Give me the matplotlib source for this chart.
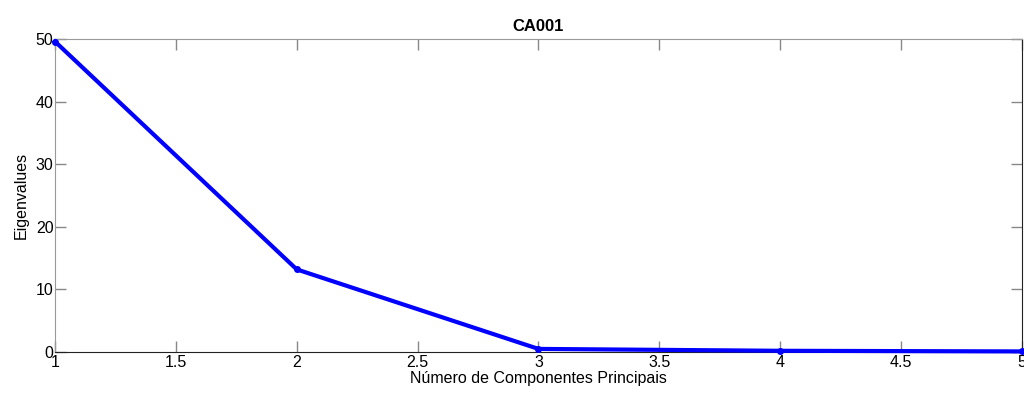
import numpy as np
import matplotlib
matplotlib.use("Agg")
import matplotlib.pyplot as plt

components = [1, 2, 3, 4, 5]
eigenvalues = [49.6, 13.2, 0.5, 0.2, 0.1]
x_ticks = [1, 1.5, 2, 2.5, 3, 3.5, 4, 4.5, 5]
x_tick_labels = ["1", "1.5", "2", "2.5", "3", "3.5", "4", "4.5", "5"]
y_ticks = [0, 10, 20, 30, 40, 50]

plt.rcParams["font.family"] = ["Liberation Sans", "DejaVu Sans"]
plt.rcParams["font.size"] = 11.5

fig = plt.figure(figsize=(10.24, 3.96), dpi=100)
ax = fig.add_axes([0.0537, 0.111, 0.9443, 0.7905])

ax.plot(components, eigenvalues, color="#0000ff", linewidth=3, marker="o",
        markersize=4, clip_on=False, zorder=3)

ax.set_xlim(1, 5)
ax.set_ylim(0, 50)
ax.set_xticks(x_ticks)
ax.set_xticklabels(x_tick_labels)
ax.set_yticks(y_ticks)

ax.tick_params(direction="in", length=8, width=1, color="#888888", pad=1,
               top=True, right=True, labelsize=11.5)
ax.tick_params(axis="x", pad=2)
for side in ["left", "top"]:
    ax.spines[side].set_color("#999999")
for side in ["bottom", "right"]:
    ax.spines[side].set_color("#222222")

ax.set_title("CA001", fontweight="bold", fontsize=12, pad=6)
ax.set_xlabel("Número de Componentes Principais", labelpad=1)
ax.set_ylabel("Eigenvalues", labelpad=5)

fig.savefig("out.png", dpi=100)
